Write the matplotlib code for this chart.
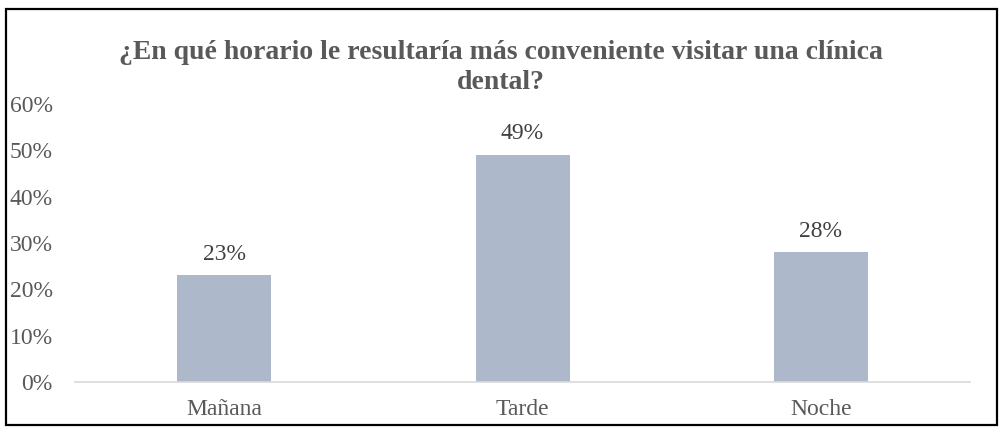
import matplotlib.pyplot as plt
from matplotlib.patches import Rectangle
from matplotlib.ticker import PercentFormatter

categorias = ["Mañana", "Tarde", "Noche"]
porcentajes = [23, 49, 28]
ticks_y = [0, 10, 20, 30, 40, 50, 60]

plt.rcParams['font.family'] = ['Liberation Serif', 'DejaVu Serif']
gris = '#595959'

fig = plt.figure(figsize=(10.01, 4.30), dpi=100)
ax = fig.add_axes([0.075, 0.1116, 0.894, 0.6465])

x = range(len(categorias))
barras = ax.bar(x, porcentajes, width=0.315, color='#ADB9CA')
for b, v in zip(barras, porcentajes):
    ax.text(b.get_x() + b.get_width() / 2, v + 2.3, f"{v}%",
            ha='center', va='bottom', fontsize=17, color='#404040')

ax.set_xlim(-0.5, 2.5)
ax.set_ylim(0, 60)
ax.set_yticks(ticks_y)
ax.yaxis.set_major_formatter(PercentFormatter(decimals=0))
ax.set_xticks(list(x))
ax.set_xticklabels(categorias)
ax.tick_params(axis='both', length=0, labelsize=17, labelcolor=gris)
ax.tick_params(axis='y', pad=16)
ax.tick_params(axis='x', pad=12)

for lado in ['top', 'right', 'left']:
    ax.spines[lado].set_visible(False)
ax.spines['bottom'].set_color('#D9D9D9')
ax.spines['bottom'].set_linewidth(1.2)

fig.text(0.5, 0.843, "¿En qué horario le resultaría más conveniente visitar una clínica\ndental?",
         ha='center', va='center', fontsize=20, fontweight='bold', color=gris,
         linespacing=1.3)

# marco exterior
fig.patches.append(Rectangle((6 / 1001, 5 / 430), 991 / 1001, 416 / 430,
                             transform=fig.transFigure, fill=False,
                             edgecolor='black', linewidth=1.6))

fig.savefig('out.png', dpi=100)
